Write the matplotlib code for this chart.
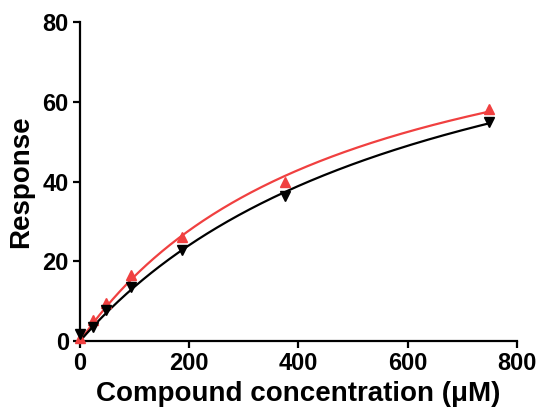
import numpy as np
import matplotlib.pyplot as plt

plt.rcParams['font.family'] = ['Liberation Sans', 'DejaVu Sans']
plt.rcParams['font.weight'] = 'bold'

# --- data ---
conc = [0, 23.4, 46.9, 93.8, 187.5, 375, 750]
resp_red = [0.8, 5.2, 9.5, 16.5, 26.0, 40.0, 58.3]
resp_black = [1.8, 3.5, 7.8, 13.5, 22.8, 36.5, 55.0]

x_ticks = [0, 200, 400, 600, 800]
y_ticks = [0, 20, 40, 60, 80]


def fit_hyperbola(x, y):
    # one-site binding fit: y = Bmax*x/(Kd+x), grid over Kd, least squares Bmax
    x = np.asarray(x, float)
    y = np.asarray(y, float)
    best = None
    for kd in np.linspace(50, 3000, 3000):
        f = x / (kd + x)
        bmax = (f @ y) / (f @ f)
        err = np.sum((y - bmax * f) ** 2)
        if best is None or err < best[0]:
            best = (err, bmax, kd)
    return best[1], best[2]


fig = plt.figure(figsize=(5.4, 4.16), dpi=100)
ax = fig.add_axes([0.148, 0.18, 0.809, 0.767])

xs = np.linspace(0, 750, 300)
for y, col, mk in [(resp_red, '#f04040', '^'), (resp_black, 'black', 'v')]:
    bmax, kd = fit_hyperbola(conc, y)
    ax.plot(xs, bmax * xs / (kd + xs), color=col, lw=1.6, zorder=2)
    ax.plot(conc, y, linestyle='none', marker=mk, color=col, ms=6.5, zorder=3,
            clip_on=False)

ax.set_xlim(0, 800)
ax.set_ylim(0, 80)
ax.set_xticks(x_ticks)
ax.set_yticks(y_ticks)
for s in ['top', 'right']:
    ax.spines[s].set_visible(False)
for s in ['left', 'bottom']:
    ax.spines[s].set_linewidth(1.6)
ax.tick_params(direction='out', length=5, width=1.6, labelsize=17, pad=3)
for lab in ax.get_xticklabels() + ax.get_yticklabels():
    lab.set_fontweight('bold')

ax.set_xlabel('Compound concentration (\u03bcM)', fontsize=20, fontweight='bold', labelpad=4)
ax.set_ylabel('Response', fontsize=20, fontweight='bold', labelpad=6)

fig.savefig('out.png', dpi=100)
